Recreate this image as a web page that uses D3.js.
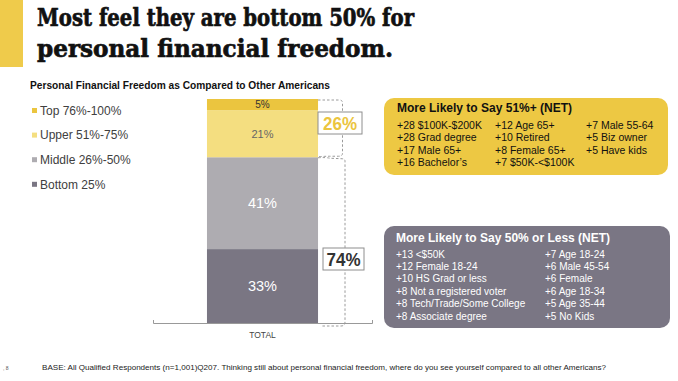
<!DOCTYPE html>
<html>
<head>
<meta charset="utf-8">
<script src="https://cdn.jsdelivr.net/npm/d3@7"></script>
<style>
  html, body { margin: 0; padding: 0; background: #fff; }
  svg { display: block; font-family: "Liberation Sans", Arial, sans-serif; }
</style>
</head>
<body>
<svg id="chart" width="678" height="381"></svg>
<script>
// ---------------- data ----------------
const titleLines = ["Most feel they are bottom 50% for", "personal financial freedom."];
const subtitle = "Personal Financial Freedom as Compared to Other Americans";
const categories = ["TOTAL"];
// stacked from bottom to top
const segmentNames = ["Bottom 25%", "Middle 26%-50%", "Upper 51%-75%", "Top 76%-100%"];
const segmentValues = [33, 41, 21, 5];
const segmentColors = ["#7a7683", "#aeacb1", "#f4de80", "#ebc53f"];
const segmentLabelColors = ["#ffffff", "#ffffff", "#666666", "#333333"];
const legendOrder = ["Top 76%-100%", "Upper 51%-75%", "Middle 26%-50%", "Bottom 25%"];
const netLabels = ["74%", "26%"]; // bottom two / top two
const netGroups = [[0, 1], [2, 3]];

const upperTitle = "More Likely to Say 51%+ (NET)";
const upperCol1 = ["+28 $100K-$200K", "+28 Grad degree", "+17 Male 65+", "+16 Bachelor\u2019s"];
const upperCol2 = ["+12 Age 65+", "+10 Retired", "+8 Female 65+", "+7 $50K-<$100K"];
const upperCol3 = ["+7 Male 55-64", "+5 Biz owner", "+5 Have kids"];

const lowerTitle = "More Likely to Say 50% or Less (NET)";
const lowerCol1 = ["+13 <$50K", "+12 Female 18-24", "+10 HS Grad or less", "+8 Not a registered voter", "+8 Tech/Trade/Some College", "+8 Associate degree"];
const lowerCol2 = ["+7 Age 18-24", "+6 Male 45-54", "+6 Female", "+6 Age 18-34", "+5 Age 35-44", "+5 No Kids"];

const footnote = "BASE: All Qualified Respondents (n=1,001)Q207. Thinking still about personal financial freedom, where do you see yourself compared to all other Americans?";
const pageNumber = "8";

// ---------------- drawing ----------------
const svg = d3.select("#chart");

// left accent bar
svg.append("rect").attr("x", 0).attr("y", 0).attr("width", 23).attr("height", 67).attr("fill", "#efcb4b");

// title
const titleWidths = [377, 356];
titleLines.forEach((t, i) => {
  svg.append("text")
    .attr("x", 37).attr("y", 26 + i * 31)
    .attr("font-family", "'DejaVu Serif', serif")
    .attr("font-weight", "bold")
    .attr("font-size", 24)
    .attr("textLength", titleWidths[i])
    .attr("lengthAdjust", "spacingAndGlyphs")
    .attr("fill", "#111")
    .attr("stroke", "#111").attr("stroke-width", 0.7)
    .text(t);
});

// subtitle
svg.append("text")
  .attr("x", 30).attr("y", 89)
  .attr("font-weight", "bold").attr("font-size", 10.2)
  .attr("textLength", 300).attr("lengthAdjust", "spacingAndGlyphs")
  .attr("fill", "#111")
  .text(subtitle);

// legend
legendOrder.forEach((name, i) => {
  const idx = segmentNames.indexOf(name);
  const cy = 110.5 + i * 24.6;
  svg.append("rect").attr("x", 32).attr("y", cy - 2.5).attr("width", 5).attr("height", 5).attr("fill", segmentColors[idx]);
  svg.append("text").attr("x", 40).attr("y", cy).attr("dy", "0.36em")
    .attr("font-size", 12).attr("fill", "#404040").text(name);
});

// scales
const x = d3.scaleBand().domain(categories).range([153, 372]).paddingInner(0).paddingOuter(0.486);
const y = d3.scaleLinear().domain([0, 100]).range([323, 99]);

// stack
const row = {};
segmentNames.forEach((n, i) => row[n] = segmentValues[i]);
const stack = d3.stack().keys(segmentNames)([Object.assign({cat: categories[0]}, row)]);

const g = svg.append("g");
stack.forEach((layer, i) => {
  layer.forEach(d => {
    g.append("rect")
      .attr("x", x(d.data.cat))
      .attr("width", x.bandwidth())
      .attr("y", y(d[1]))
      .attr("height", y(d[0]) - y(d[1]))
      .attr("fill", segmentColors[i]);
    const sizes = [14.5, 14.5, 11, 10];
    g.append("text")
      .attr("x", x(d.data.cat) + x.bandwidth() / 2)
      .attr("y", (y(d[0]) + y(d[1])) / 2)
      .attr("dy", "0.36em")
      .attr("text-anchor", "middle")
      .attr("font-size", sizes[i])
      .attr("fill", segmentLabelColors[i])
      .text(segmentValues[i] + "%");
  });
});

// axis
const axis = d3.axisBottom(x).tickSize(0).tickSizeOuter(-3).tickPadding(9);
const ax = svg.append("g").attr("transform", `translate(0,${y(0)})`).call(axis);
ax.select(".domain").attr("stroke", "#999").attr("stroke-width", 1);
ax.selectAll(".tick text").attr("font-size", 8.5).attr("fill", "#444").attr("font-family", "'Liberation Sans', Arial, sans-serif");

// brackets
const barRight = x(categories[0]) + x.bandwidth();
const cum = d3.cumsum(segmentValues);
const topAll = y(cum[3]);
const split = y(cum[1]);
const bottom = y(0);
const dashStyle = sel => sel.attr("fill", "none").attr("stroke", "#9a9a9a").attr("stroke-width", 1).attr("stroke-dasharray", "2.5,2");

// upper bracket (26%)
const ux = 342.5;
svg.append("path")
  .attr("d", `M${barRight},${topAll + 1} L${ux - 3},${topAll + 1} Q${ux},${topAll + 1} ${ux},${topAll + 4} L${ux},${split - 4} Q${ux},${split - 1} ${ux - 4},${split - 1} L${ux - 12},${split - 1} Q${ux - 18},${split - 1} ${barRight},${split - 0.5}`)
  .call(dashStyle);
// lower bracket (74%)
const lx = 345;
svg.append("path")
  .attr("d", `M${barRight},${split + 0.5} Q${barRight + 8},${split} ${barRight + 12},${split + 1} L${lx - 3},${split + 1.5} Q${lx},${split + 1.5} ${lx},${split + 4} L${lx},${bottom - 1} Q${lx},${bottom + 3} ${lx - 4},${bottom + 3} L${barRight + 4},${bottom + 3}`)
  .call(dashStyle);

// NET labels
const netBoxes = [
  {x: 323, y: 248, w: 41, h: 22, color: "#333333"},
  {x: 318, y: 112, w: 44, h: 22, color: "#ebc53f"}
];
netGroups.forEach((grp, i) => {
  const b = netBoxes[i];
  svg.append("rect").attr("x", b.x).attr("y", b.y).attr("width", b.w).attr("height", b.h)
    .attr("fill", "#fff").attr("stroke", "#8e8e8e").attr("stroke-width", 1);
  svg.append("text").attr("x", b.x + b.w / 2).attr("y", b.y + b.h / 2).attr("dy", "0.36em")
    .attr("text-anchor", "middle").attr("font-weight", "bold").attr("font-size", 18.5)
    .attr("textLength", 34).attr("lengthAdjust", "spacingAndGlyphs")
    .attr("fill", b.color).text(netLabels[i]);
});

// upper panel
svg.append("rect").attr("x", 384).attr("y", 98).attr("width", 284).attr("height", 77).attr("rx", 10)
  .attr("fill", "#edc843");
svg.append("text").attr("x", 397).attr("y", 111.5).attr("font-weight", "bold").attr("font-size", 12)
  .attr("fill", "#111").text(upperTitle);
[[upperCol1, 397], [upperCol2, 495], [upperCol3, 586]].forEach(([col, cx]) => {
  col.forEach((t, i) => {
    svg.append("text").attr("x", cx).attr("y", 129 + i * 12.4).attr("font-size", 10.5)
      .attr("fill", "#111").text(t);
  });
});

// lower panel
svg.append("rect").attr("x", 384).attr("y", 226).attr("width", 286).attr("height", 102).attr("rx", 10)
  .attr("fill", "#7a7684");
svg.append("text").attr("x", 396).attr("y", 241.5).attr("font-weight", "bold").attr("font-size", 12)
  .attr("fill", "#fff").text(lowerTitle);
[[lowerCol1, 396], [lowerCol2, 545]].forEach(([col, cx]) => {
  col.forEach((t, i) => {
    svg.append("text").attr("x", cx).attr("y", 257.5 + i * 12.4).attr("font-size", 10)
      .attr("fill", "#fff").text(t);
  });
});

// footnote
svg.append("text").attr("x", 42).attr("y", 369.5).attr("font-size", 7.6)
  .attr("textLength", 564).attr("lengthAdjust", "spacingAndGlyphs")
  .attr("fill", "#222").text(footnote);
svg.append("text").attr("x", 3).attr("y", 370).attr("font-size", 5).attr("fill", "#555").text(", " + pageNumber);
</script>
</body>
</html>
